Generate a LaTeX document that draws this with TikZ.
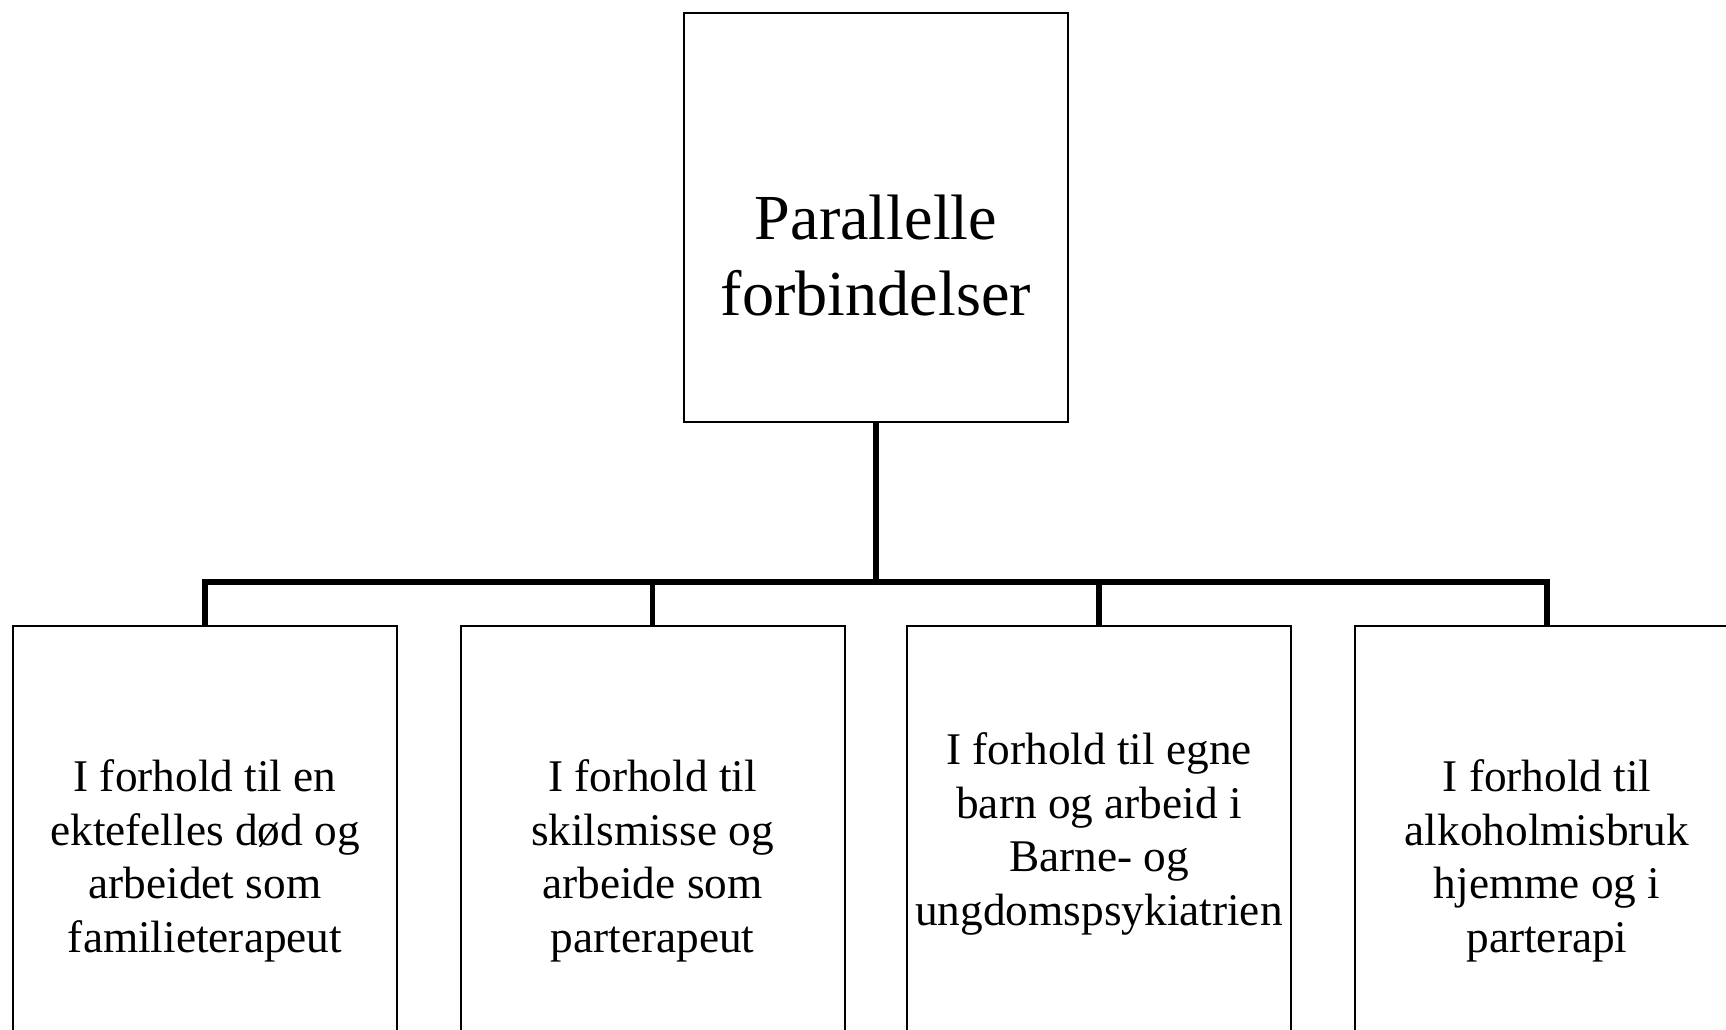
\documentclass[tikz,border=0pt]{standalone}
\usepackage{fontspec}
\setmainfont{Liberation Serif}
\begin{document}
\begin{tikzpicture}[x=1pt,y=-1pt,
  box/.style={draw=black, line width=2pt, fill=white, rectangle, minimum width=384pt, inner sep=0pt},
  toptxt/.style={align=center, inner sep=0pt, font={\fontsize{64.2}{76}\selectfont}},
  subtxt/.style={align=center, inner sep=0pt, font={\fontsize{45.3}{53.5}\selectfont}},
  conn/.style={draw=black, line width=5.5pt, line join=miter}]
\clip (0,0) rectangle (1726,1030);
\fill[white] (0,0) rectangle (1726,1030);
\node[box, minimum height=409pt, anchor=north] (top) at (876,12) {};
\node[box, minimum height=480pt, anchor=north] (b1) at (205,625) {};
\node[box, minimum height=480pt, anchor=north] (b2) at (652.5,625) {};
\node[box, minimum height=480pt, anchor=north] (b3) at (1099,625) {};
\node[box, minimum height=480pt, anchor=north] (b4) at (1547,625) {};
\coordinate (bar) at (0,582);
\draw[conn] (top.south) -- (top.south |- bar) -| (b1.north);
\draw[conn] (top.south) -- (top.south |- bar) -| (b2.north);
\draw[conn] (top.south) -- (top.south |- bar) -| (b3.north);
\draw[conn] (top.south) -- (top.south |- bar) -| (b4.north);
\node[toptxt] (ttop) at (876,256) {Parallelle\\forbindelser};
\node[subtxt] (t1) at (205,861) {I forhold til en\\ektefelles død og\\arbeidet som\\familieterapeut};
\node[subtxt] (t2) at (652.5,861) {I forhold til\\skilsmisse og\\arbeide som\\parterapeut};
\node[subtxt] (t3) at (1099,834) {I forhold til egne\\barn og arbeid i\\Barne- og\\ungdomspsykiatrien};
\node[subtxt] (t4) at (1547,861) {I forhold til\\alkoholmisbruk\\hjemme og i\\parterapi};
\end{tikzpicture}
\end{document}
